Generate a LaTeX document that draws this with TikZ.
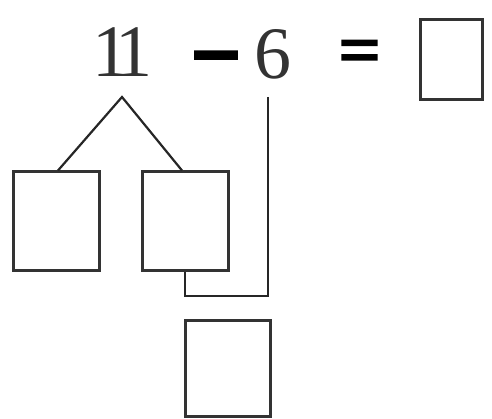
\documentclass[tikz,border=0pt]{standalone}
\usepackage{fontspec}
\setmainfont{Liberation Serif}
\newfontfamily\opfont{Liberation Serif}[FakeBold=4]
\begin{document}
\begin{tikzpicture}[x=1pt,y=-1pt,
  numtxt/.style={inner sep=0pt,text=black!80,font=\fontsize{74}{74}\selectfont},
  optxt/.style={inner sep=0pt,anchor=base,text=black,font=\opfont\fontsize{72}{72}\selectfont},
  ansbox/.style={draw=black!80,line width=3pt,inner sep=0pt},
  link/.style={draw=black!85,line width=2.2pt}]
\useasboundingbox (0,0) rectangle (492,419);
% equation
\node[numtxt] (n11) at (122.5,52.5) {1\kern-14pt 1};
\node[optxt] (minus) at (216,91) {\scalebox{1.2}[1.5]{−}};
\node[numtxt] (n6) at (272.5,54) {6};
\node[optxt] (eq) at (359.5,74) {=};
% boxes
\node[ansbox,minimum width=62pt,minimum height=80pt] (boxR) at (451,60) {};
\node[ansbox,minimum width=86pt,minimum height=99pt] (boxA) at (56,221.5) {};
\node[ansbox,minimum width=86pt,minimum height=99pt] (boxB) at (185,221.5) {};
\node[ansbox,minimum width=85pt,minimum height=96pt] (boxC) at (227.5,368) {};
% connectors
\coordinate (apex) at (122,97);
\coordinate (six) at (268,97);
\coordinate (turn) at (268,296);
\draw[link] ([xshift=2pt]boxA.north) -- (apex) -- ([xshift=-3pt]boxB.north);
\draw[link] (six) -- (turn) -| (boxB.south);
\end{tikzpicture}
\end{document}
